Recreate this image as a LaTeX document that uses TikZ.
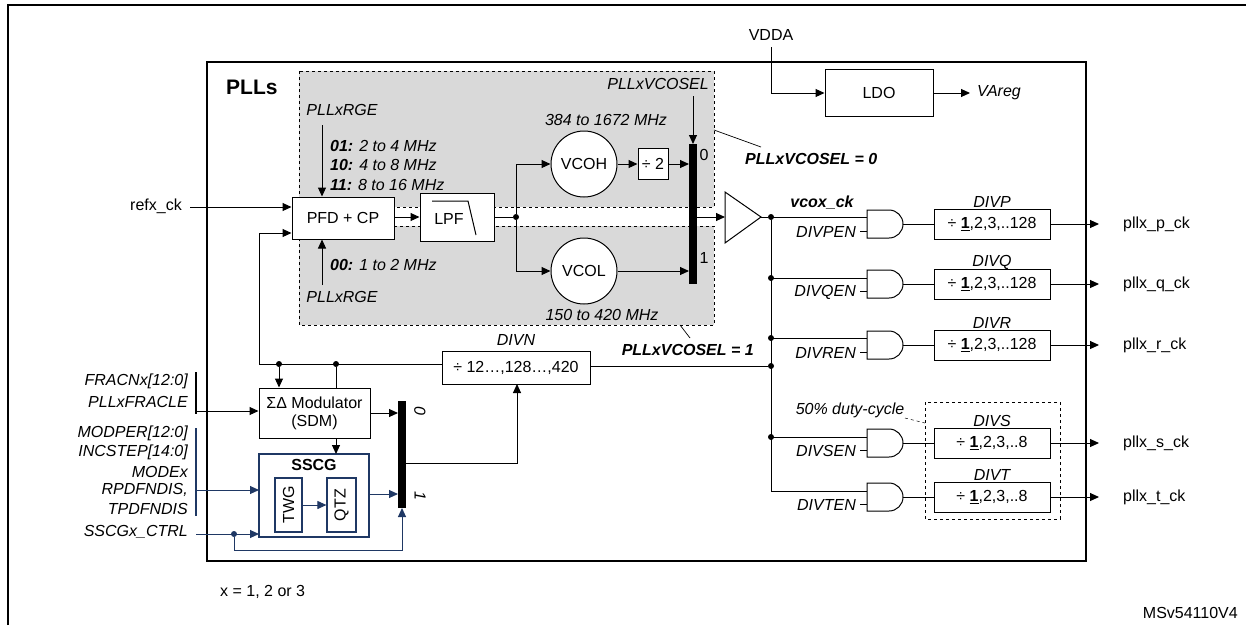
\documentclass[tikz,border=0pt]{standalone}
\usepackage{fontspec}
\setmainfont{Liberation Sans}
\usetikzlibrary{arrows.meta}
\definecolor{navy}{RGB}{31,56,100}
\definecolor{shade}{RGB}{217,217,217}
\begin{document}
\begin{tikzpicture}[x=1pt,y=-1pt,
  every node/.style={font=\fontsize{16}{18}\selectfont, inner sep=0pt},
  box/.style={draw, line width=1pt, fill=white},
  ln/.style={line width=1pt},
  arr/.style={line width=1pt,-{Triangle[length=9pt,width=8pt]}},
  lab/.style={font=\fontsize{16}{18}\selectfont\itshape},
  blab/.style={font=\fontsize{16}{18}\selectfont\bfseries\itshape},
  dot/.style={circle, fill, minimum size=6pt, inner sep=0pt},
  mux/.style={fill=black, draw=none},
  dbox/.style={dashed, line width=0.7pt}]
\useasboundingbox (0,0) rectangle (1246,625);
% outer frame
\draw[line width=1.2pt] (8,625) -- (8,5) -- (1246,5);
% PLL box
\draw[line width=2pt] (207,62) rectangle (1086,561);
\node[font=\fontsize{21}{23}\selectfont\bfseries, anchor=west] (plls) at (226,87) {PLLs};
% gray regions
\draw[dbox, fill=shade] (299,71) rectangle (714,207);
\draw[dbox, fill=shade] (299,226) rectangle (714,325);
% VDDA / LDO
\node (vdda) at (771,35) {VDDA};
\node[box, minimum width=108pt, minimum height=47pt] (ldo) at (879,93) {LDO};
\draw[arr] (771,47) -- (771,93) -- (ldo.west);
\node[lab, anchor=west] (vareg) at (977,93) {VAreg};
\coordinate (varege) at (970,93);
\draw[arr] (ldo.east) -- (varege);
% PFD, LPF
\node[box, minimum width=102pt, minimum height=42pt] (pfd) at (343,218) {PFD + CP};
\node[box, minimum width=74pt, minimum height=48pt] (lpf) at (457,217) {};
\node (lpft) at (449,219) {LPF};
\draw[ln] (432,201) -- (468,201) -- (476,235);
\node (refx) at (156,206) {refx\_ck};
\coordinate (refxe) at (190,207);
\draw[arr] (refxe) -- (pfd.west |- refxe);
\draw[arr] (pfd.east |- 0,217) -- (lpf.west |- 0,217);
% PLLxRGE
\node[lab] (rgetop) at (342,110) {PLLxRGE};
\draw[arr] (322,125) -- (pfd.north -| 322,0);
\node[lab, anchor=west] (r01) at (330,146) {\textbf{01:} 2 to 4 MHz};
\node[lab, anchor=west] (r10) at (330,165) {\textbf{10:} 4 to 8 MHz};
\node[lab, anchor=west] (r11) at (330,185) {\textbf{11:} 8 to 16 MHz};
\draw[arr] (322,285) -- (pfd.south -| 322,0);
\node[lab, anchor=west] (r00) at (330,265) {\textbf{00:} 1 to 2 MHz};
\node[lab] (rgebot) at (342,297) {PLLxRGE};
% VCOs
\node[draw, line width=1pt, fill=white, circle, minimum size=66pt] (vcoh) at (584,164) {VCOH};
\node[draw, line width=1pt, fill=white, circle, minimum size=66pt] (vcol) at (584,271) {VCOL};
\node[box, minimum width=30pt, minimum height=31pt] (div2) at (653,164) {÷ 2};
\node[dot] (j1) at (516,217) {};
\draw[ln] (lpf.east |- j1) -- (j1);
\draw[arr] (j1) |- (vcoh.west);
\draw[arr] (j1) |- (vcol.west);
\draw[arr] (vcoh.east) -- (div2.west);
\fill[mux] (689,144) rectangle (697,284);
\coordinate (m1top) at (693,144);
\draw[arr] (div2.east) -- (689,164);
\draw[arr] (vcol.east) -- (689,271);
\node (m10) at (704,155) {0};
\node (m11) at (704,258) {1};
\node[lab, anchor=east] (vcosel) at (709,84) {PLLxVCOSEL};
\draw[arr] (693,96) -- (m1top);
\node[lab] (f1) at (606,120) {384 to 1672 MHz};
\node[lab] (f2) at (602,315) {150 to 420 MHz};
\node[blab, anchor=west] (sel0) at (745,159) {PLLxVCOSEL = 0};
\draw[line width=0.7pt] (714,130) -- (761,147);
\node[blab, anchor=east] (sel1) at (754,350) {PLLxVCOSEL = 1};
\draw[line width=0.7pt] (680,325) -- (690,338);
% amplifier
\draw[ln, fill=white] (725,192) -- (761,217) -- (725,243) -- cycle;
\coordinate (amp) at (725,217);
\draw[arr] (697,217) -- (amp);
\node[dot] (b0) at (771,217) {};
\draw[ln] (761,217) -- (b0);
\node[blab] (vcox) at (822,203) {vcox\_ck};
% bus
\node[dot] (bq) at (771,278) {};
\node[dot] (br) at (771,338) {};
\node[dot] (bn) at (771,366) {};
\node[dot] (bs) at (771,437) {};
\coordinate (bt) at (771,491);
\draw[ln] (b0) -- (bt);
\foreach \n/\yt/\yin/\en/\divlab/\divtxt/\outl in {
  p/210/217/DIVPEN/DIVP/128/pllx\_p\_ck,
  q/270/278/DIVQEN/DIVQ/128/pllx\_q\_ck,
  r/331/338/DIVREN/DIVR/128/pllx\_r\_ck,
  s/429/437/DIVSEN/DIVS/8/pllx\_s\_ck,
  t/483/491/DIVTEN/DIVT/8/pllx\_t\_ck}{
  \draw[ln, fill=white] (867,\yt) -- (889,\yt) arc[start angle=-90,end angle=90,radius=14] -- (867,\yt+28) -- cycle;
  \draw[ln] (771,\yin) -- (867,\yin);
  \draw[ln] (860,\yt+21) -- (867,\yt+21);
  \node[lab, anchor=east] (en\n) at (856,\yt+22) {\en};
  \node[box, minimum width=116pt, minimum height=30pt] (d\n) at (992,\yt+14) {÷ \underline{\textbf{1}},2,3,..\divtxt};
  \draw[ln] (903,\yt+14) -- (d\n.west);
  \node[lab] (dl\n) at (992,\yt-8) {\divlab};
  \node[anchor=west] (o\n) at (1123,\yt+14) {\outl};
  \coordinate (oe\n) at (1099,\yt+14);
  \draw[arr] (d\n.east) -- (oe\n);
}
\draw[dbox] (925,402) rectangle (1060,519);
\node[lab] (duty) at (850,410) {50\% duty-cycle};
\draw[dbox, line width=0.5pt] (905,418) -- (925,423);
% feedback / DIVN
\node[box, minimum width=148pt, minimum height=33pt] (divn) at (516,368) {÷ 12…,128…,420};
\node[lab] (divnl) at (516,340) {DIVN};
\draw[ln] (divn.east |- bn) -- (bn);
\node[dot] (fa) at (279,364) {};
\node[dot] (fb) at (336,364) {};
\draw[arr] (divn.west |- fa) -- (259,364) -- (259,233) -- (pfd.west |- 0,233);
% SDM
\node[box, minimum width=111pt, minimum height=50pt, align=center] (sdm) at (314.5,413) {ΣΔ Modulator\\(SDM)};
\draw[arr] (fa) -- (fa |- sdm.north);
\draw[ln] (fb) -- (fb |- sdm.north);
\draw[navy, line width=1.5pt, fill=white] (259,454) rectangle (369,537);
\node[font=\fontsize{16}{18}\selectfont\bfseries] (sscg) at (314,465) {SSCG};
\draw[arr] (sdm.south -| fb) -- (336,454);
\node[draw=navy, line width=1.2pt, minimum width=27pt, minimum height=54pt] (twg) at (288.5,505) {\rotatebox{90}{TWG}};
\node[draw=navy, line width=1.2pt, minimum width=29pt, minimum height=54pt] (qtz) at (341.5,505) {\rotatebox{90}{QTZ}};
\draw[arr, navy] (twg.east) -- (qtz.west);
% mux2
\fill[mux] (398,401) rectangle (406,508);
\node[rotate=-90] (m20) at (420,411) {\itshape 0};
\node[rotate=-90] (m21) at (420,496) {\itshape 1};
\draw[arr] (sdm.east |- 0,413) -- (398,413);
\draw[arr, navy] (369,494) -- (398,494);
\draw[arr] (406,463) -- (517,463) -- (517,384);
% left inputs
\node[lab, anchor=east] (fracn) at (188,381) {FRACNx[12:0]};
\node[lab, anchor=east] (fracle) at (188,402) {PLLxFRACLE};
\draw[line width=2pt] (196,372) -- (196,414);
\draw[arr] (196,411) -- (sdm.west |- 0,411);
\node[lab, anchor=east] (modper) at (188,433) {MODPER[12:0]};
\node[lab, anchor=east] (incstep) at (188,452) {INCSTEP[14:0]};
\node[lab, anchor=east] (modex) at (188,472) {MODEx};
\node[lab, anchor=east] (rpd) at (188,490) {RPDFNDIS,};
\node[lab, anchor=east] (tpd) at (188,509) {TPDFNDIS};
\draw[navy, line width=2pt] (196,428) -- (196,516);
\draw[arr, navy] (196,490) -- (259,490);
\node[lab, anchor=east] (ctrl) at (188,532) {SSCGx\_CTRL};
\node[dot, navy] (cd) at (234,534) {};
\draw[arr, navy] (196,534) -- (259,534);
\draw[arr, navy] (cd) -- (234,550) -- (402,550) -- (402,508);
% notes
\node[anchor=west] (xnote) at (220,592) {x = 1, 2 or 3};
\node[anchor=east] (ref) at (1238,613) {MSv54110V4};
\end{tikzpicture}
\end{document}
